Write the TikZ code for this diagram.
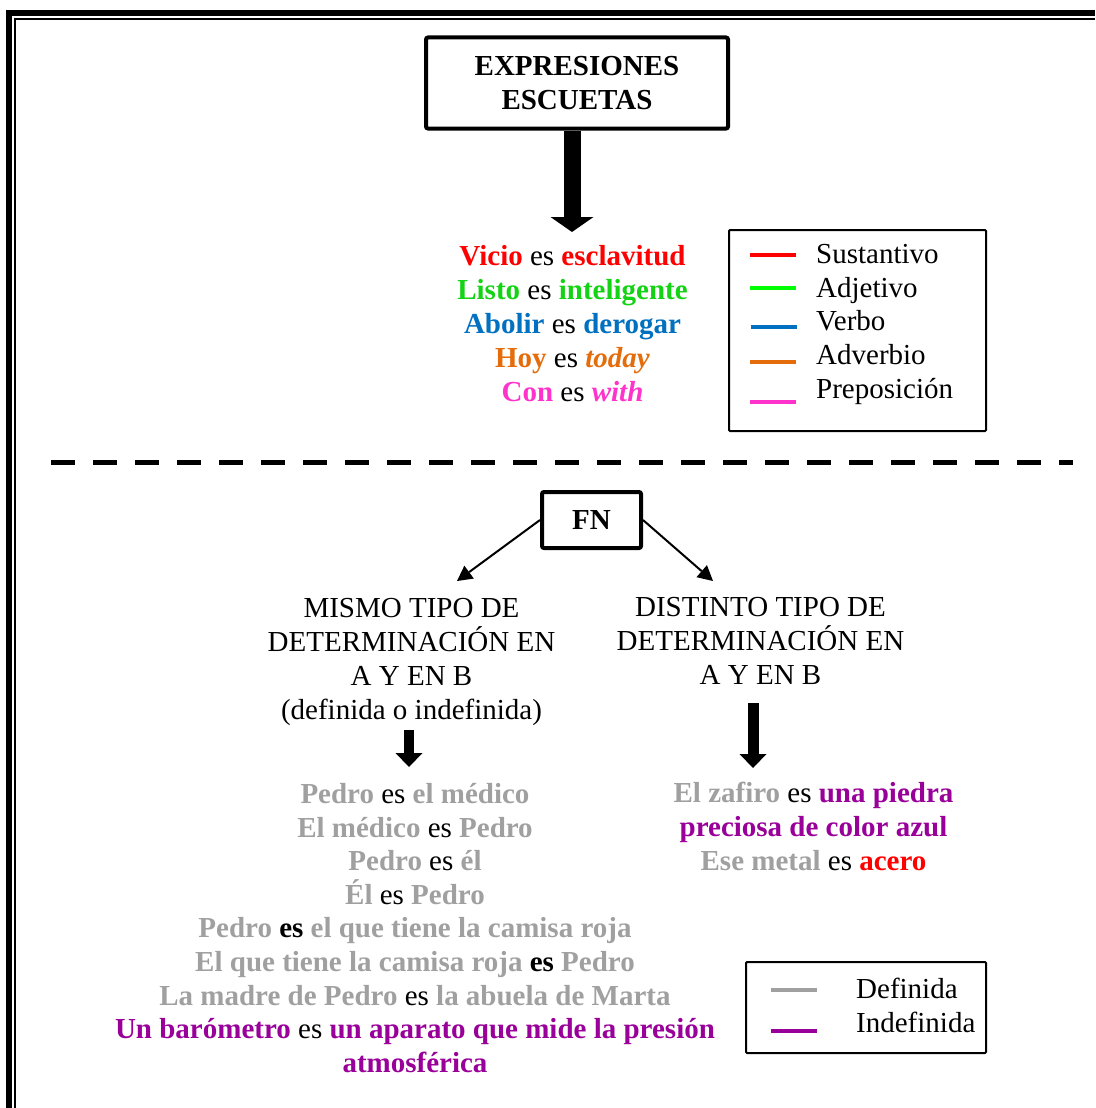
\documentclass[tikz,border=0pt]{standalone}
\usepackage{fontspec}
\setmainfont{Liberation Serif}
\usepackage{tikz}
\usetikzlibrary{arrows.meta}
\usepackage{xcolor}
\definecolor{sustred}{RGB}{255,0,0}
\definecolor{adjgreen}{RGB}{20,210,20}
\definecolor{adjline}{RGB}{0,255,0}
\definecolor{verbblue}{RGB}{0,112,192}
\definecolor{advorange}{RGB}{228,108,10}
\definecolor{preppink}{RGB}{255,51,204}
\definecolor{defgray}{RGB}{160,160,160}
\definecolor{indefpurple}{RGB}{153,0,153}
\newcommand{\txtsize}{\fontsize{29}{34}\selectfont}

\begin{document}
\begin{tikzpicture}[x=1pt, y=-1pt,
  every node/.style={font=\txtsize, inner sep=0pt},
  titlebox/.style={draw, line width=4pt, rounded corners=2pt, font=\txtsize\bfseries, align=center},
  legbox/.style={line width=2pt, rounded corners=1pt},
  legline/.style={line width=4pt},
  fatarrow/.style={line width=17pt, -{Triangle[width=43pt,length=15pt,line width=0pt]}},
  midarrow/.style={line width=10pt, -{Triangle[width=27pt,length=14pt,line width=0pt]}},
  thinarrow/.style={line width=2pt, -{Triangle[width=16pt,length=15pt,line width=0pt]}}]
  \useasboundingbox (0,0) rectangle (1095,1108);
  % Page frame (thick and thin rule)
  \draw[line width=6pt] (9,1108) -- (9,13) -- (1095,13);
  \draw[line width=2pt] (15,1108) -- (15,19) -- (1095,19);
  % Title box
  \node[titlebox, minimum width=302pt, minimum height=91pt] (titulo) at (577,83)
    {EXPRESIONES\\ESCUETAS};
  \coordinate (puntaA) at (572,232);
  \draw[fatarrow] (titulo.south -| puntaA) -- (puntaA);
  % Bare expressions
  \node[align=center] (ejemplosA) at (572.5,324)
    {\textcolor{sustred}{\textbf{Vicio}} es \textcolor{sustred}{\textbf{esclavitud}}\\
     \textcolor{adjgreen}{\textbf{Listo}} es \textcolor{adjgreen}{\textbf{inteligente}}\\
     \textcolor{verbblue}{\textbf{Abolir}} es \textcolor{verbblue}{\textbf{derogar}}\\
     \textcolor{advorange}{\textbf{Hoy}} es \textcolor{advorange}{\textbf{\textit{today}}}\\
     \textcolor{preppink}{\textbf{Con}} es \textcolor{preppink}{\textbf{\textit{with}}}};
  % Word class legend
  \draw[legbox] (729,230) rectangle (986,431);
  \draw[legline, sustred] (750,255) -- (796,255);
  \node[anchor=base west] (lsust) at (816,263) {Sustantivo};
  \draw[legline, adjline] (750,288) -- (796,288);
  \node[anchor=base west] (ladj) at (816,297) {Adjetivo};
  \draw[legline, verbblue] (751,327) -- (797,327);
  \node[anchor=base west] (lverb) at (816,330) {Verbo};
  \draw[legline, advorange] (750,362) -- (796,362);
  \node[anchor=base west] (ladv) at (816,364) {Adverbio};
  \draw[legline, preppink] (750,402) -- (796,402);
  \node[anchor=base west] (lprep) at (816,398) {Preposición};
  % Separator
  \draw[line width=5pt, dash pattern=on 24pt off 18pt] (51,462) -- (1073,462);
  % FN box
  \node[titlebox, minimum width=99pt, minimum height=56pt] (fn) at (591.5,520) {FN};
  \node[align=center] (mismo) at (411.5,661.5)
    {MISMO TIPO DE\\DETERMINACIÓN EN\\A Y EN B\\(definida o indefinida)};
  \node[align=center] (distinto) at (760.5,641)
    {DISTINTO TIPO DE\\DETERMINACIÓN EN\\A Y EN B};
  \coordinate (puntaIzq) at (457,581);
  \coordinate (puntaDer) at (713,581);
  \draw[thinarrow] (fn.west) -- (puntaIzq);
  \draw[thinarrow] (fn.east) -- (puntaDer);
  % Same determination
  \coordinate (inicioB) at (409,730);
  \coordinate (puntaB) at (409,767);
  \draw[midarrow] (inicioB) -- (puntaB);
  \node[align=center, font=\fontsize{29}{33.6}\selectfont] (ejemplosB) at (415,928)
    {\textcolor{defgray}{\textbf{Pedro}} es \textcolor{defgray}{\textbf{el médico}}\\
     \textcolor{defgray}{\textbf{El médico}} es \textcolor{defgray}{\textbf{Pedro}}\\
     \textcolor{defgray}{\textbf{Pedro}} es \textcolor{defgray}{\textbf{él}}\\
     \textcolor{defgray}{\textbf{Él}} es \textcolor{defgray}{\textbf{Pedro}}\\
     \textcolor{defgray}{\textbf{Pedro}} \textbf{es} \textcolor{defgray}{\textbf{el que tiene la camisa roja}}\\
     \textcolor{defgray}{\textbf{El que tiene la camisa roja}} \textbf{es} \textcolor{defgray}{\textbf{Pedro}}\\
     \textcolor{defgray}{\textbf{La madre de Pedro}} es \textcolor{defgray}{\textbf{la abuela de Marta}}\\
     \textcolor{indefpurple}{\textbf{Un barómetro}} es \textcolor{indefpurple}{\textbf{un aparato que mide la presión}}\\
     \textcolor{indefpurple}{\textbf{atmosférica}}};
  % Different determination
  \coordinate (inicioC) at (753,703);
  \coordinate (puntaC) at (753,768);
  \draw[midarrow, line width=11pt] (inicioC) -- (puntaC);
  \node[align=center] (ejemplosC) at (813.5,826)
    {\textcolor{defgray}{\textbf{El zafiro}} es \textcolor{indefpurple}{\textbf{una piedra}}\\
     \textcolor{indefpurple}{\textbf{preciosa de color azul}}\\
     \textcolor{defgray}{\textbf{Ese metal}} es \textcolor{sustred}{\textbf{acero}}};
  % Determination legend
  \draw[legbox] (746,962) rectangle (986,1053);
  \draw[legline, defgray] (771,990) -- (817,990);
  \node[anchor=base west] (ldef) at (856,998) {Definida};
  \draw[legline, indefpurple] (771,1031) -- (817,1031);
  \node[anchor=base west] (lindef) at (856,1032) {Indefinida};
\end{tikzpicture}
\end{document}
